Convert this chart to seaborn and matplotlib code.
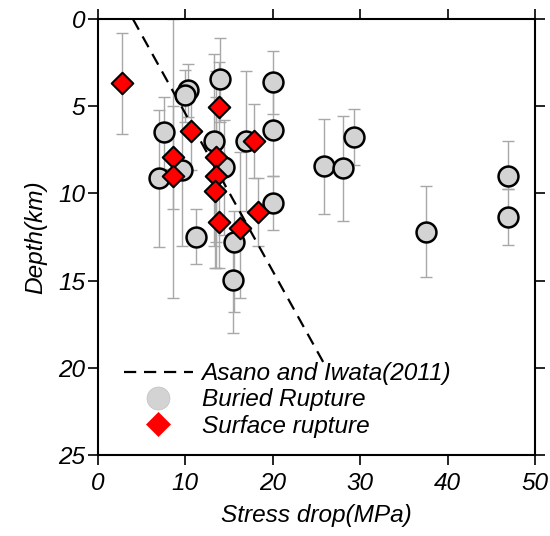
import numpy as np
import seaborn as sns
import matplotlib.pyplot as plt
from matplotlib.lines import Line2D

# buried rupture events (grey circles): stress drop, depth, error bar ends
buried_stress = [10.3, 10.0, 14.0, 20.0, 7.6, 13.3, 16.9, 20.0, 14.4, 9.6, 7.0,
                 20.0, 11.2, 15.6, 15.4, 25.8, 28.0, 29.3, 37.5, 46.9, 46.9]
buried_depth = [4.07, 4.36, 3.46, 3.6, 6.46, 7.0, 7.0, 6.35, 8.47, 8.66, 9.14,
                10.57, 12.48, 12.8, 14.97, 8.43, 8.56, 6.75, 12.2, 9.0, 11.37]
buried_top = [2.6, 2.9, 1.1, 1.85, 4.5, 2.0, 3.0, 3.7, 5.8, 4.7, 5.2,
              9.0, 10.9, 11.0, 13.2, 5.73, 5.56, 5.16, 9.58, 7.0, 9.77]
buried_bottom = [5.6, 5.9, 5.9, 5.45, 8.6, 13.0, 11.0, 9.0, 12.4, 13.0, 13.1,
                 12.1, 14.07, 16.8, 18.0, 11.16, 11.6, 8.39, 14.78, 9.77, 12.98]

# surface rupture events (red diamonds)
surface_stress = [2.75, 13.8, 10.7, 17.9, 8.6, 13.5, 8.6, 13.5, 13.4, 13.8, 18.3, 16.2]
surface_depth = [3.65, 5.06, 6.42, 7.0, 7.93, 7.9, 8.98, 8.98, 9.84, 11.66, 11.05, 11.97]
surface_top = [0.79, 2.45, 4.17, 4.9, 4.97, 3.0, 0.0, 4.5, 6.5, 9.0, 9.14, 7.6]
surface_bottom = [6.6, 7.7, 8.66, 9.14, 10.9, 12.8, 16.0, 14.3, 14.3, 14.3, 13.0, 16.0]

# Asano and Iwata (2011) relation
asano_stress = [4.0, 25.8]
asano_depth = [0.0, 19.7]

FS = 17.6
sns.set_theme(style='white')
plt.rcParams['font.family'] = ['Liberation Sans', 'DejaVu Sans']
plt.rcParams.update({
    'font.style': 'italic',
    'font.size': FS,
    'xtick.labelsize': FS,
    'ytick.labelsize': FS,
    'axes.labelsize': FS,
    'legend.fontsize': FS,
    'text.color': 'black',
    'axes.labelcolor': 'black',
    'xtick.color': 'black',
    'ytick.color': 'black',
})

fig = plt.figure(figsize=(5.5, 5.36), dpi=100)
ax = fig.add_axes([0.178, 0.151, 0.795, 0.8136])

err_kw = dict(fmt='none', ecolor='#a8a8a8', elinewidth=1.0, capsize=4.5,
              capthick=1.0, zorder=1)
b_depth = np.array(buried_depth)
ax.errorbar(buried_stress, b_depth,
            yerr=[b_depth - np.array(buried_top), np.array(buried_bottom) - b_depth],
            **err_kw)
s_depth = np.array(surface_depth)
ax.errorbar(surface_stress, s_depth,
            yerr=[s_depth - np.array(surface_top), np.array(surface_bottom) - s_depth],
            **err_kw)

sns.lineplot(x=asano_stress, y=asano_depth, color='black', linewidth=1.6,
             dashes=False, ax=ax, zorder=2)
ax.lines[-1].set_dashes((5.5, 3.5))

sns.scatterplot(x=buried_stress, y=buried_depth, marker='o', s=205,
                color='#d3d3d3', edgecolor='black', linewidth=1.8,
                ax=ax, zorder=3, legend=False)
sns.scatterplot(x=surface_stress, y=surface_depth, marker='D', s=120,
                color='red', edgecolor='black', linewidth=1.5,
                ax=ax, zorder=4, legend=False)

ax.set_xlim(0, 50)
ax.set_ylim(25, 0)
ax.set_xticks([0, 10, 20, 30, 40, 50])
ax.set_yticks([0, 5, 10, 15, 20, 25])
ax.set_xlabel('Stress drop(MPa)', labelpad=7)
ax.set_ylabel('Depth(km)', labelpad=8)

for sp in ax.spines.values():
    sp.set_color('black')
    sp.set_linewidth(1.5)
ax.tick_params(direction='out', length=7, width=1.2, color='black',
               top=True, right=True, bottom=True, left=True,
               labelcolor='black')
ax.tick_params(axis='x', pad=5)
ax.tick_params(axis='y', pad=2)

handles = [
    Line2D([], [], color='black', linewidth=1.6, dashes=(5.5, 3.5)),
    Line2D([], [], linestyle='none', marker='o', markersize=16.5,
           markerfacecolor='#d3d3d3', markeredgecolor='#c0c0c0', markeredgewidth=0.5),
    Line2D([], [], linestyle='none', marker='D', markersize=12,
           markerfacecolor='red', markeredgecolor='red', markeredgewidth=0.5),
]
labels = ['Asano and Iwata(2011)', 'Buried Rupture', 'Surface rupture']
ax.legend(handles, labels, loc='lower left', bbox_to_anchor=(0.06, 0.04),
          frameon=False, handlelength=2.8, handletextpad=0.37,
          labelspacing=0.13, borderpad=0, borderaxespad=0)

fig.savefig('out.png', dpi=100)
